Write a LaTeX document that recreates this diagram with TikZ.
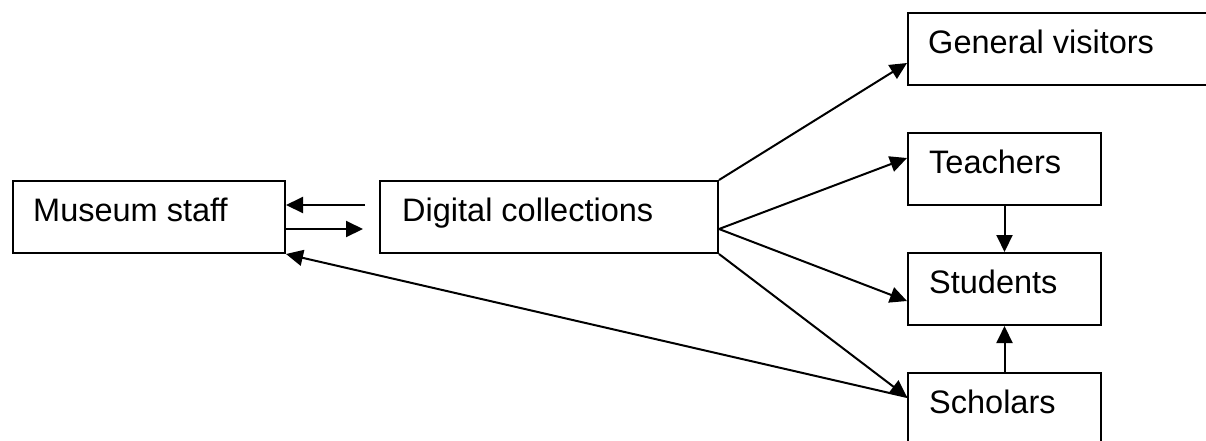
\documentclass[tikz,border=0pt]{standalone}
\usepackage{fontspec}
\setmainfont{Liberation Sans}
\usetikzlibrary{arrows.meta,calc}
\begin{document}
\begin{tikzpicture}[x=1pt,y=-1pt,
  box/.style={draw, line width=2pt, rectangle, inner sep=0pt, anchor=north west},
  lbl/.style={inner sep=0pt, anchor=base west, font=\fontsize{32.5}{38}\selectfont},
  arr/.style={line width=2pt, -{Triangle[length=17pt,width=16pt]}}]
\clip (0,0) rectangle (1206,440);
\fill[white] (0,0) rectangle (1206,440);
% boxes
\node[box, minimum width=272pt, minimum height=72pt] (staff) at (12,180) {};
\node[box, minimum width=338pt, minimum height=72pt] (dig) at (379,180) {};
\node[box, minimum width=310pt, minimum height=72pt] (gen) at (907,12) {};
\node[box, minimum width=193pt, minimum height=72pt] (tea) at (907,132) {};
\node[box, minimum width=193pt, minimum height=72pt] (stu) at (907,252) {};
\node[box, minimum width=193pt, minimum height=72pt] (sch) at (907,372) {};
% labels
\node[lbl] (staffl) at ($(staff.north west)+(21,41)$) {Museum staff};
\node[lbl] (digl) at ($(dig.north west)+(23,41)$) {Digital collections};
\node[lbl] (genl) at ($(gen.north west)+(21,41)$) {General visitors};
\node[lbl] (teal) at ($(tea.north west)+(22,41)$) {Teachers};
\node[lbl] (stul) at ($(stu.north west)+(22,41)$) {Students};
\node[lbl] (schl) at ($(sch.north west)+(22,41)$) {Scholars};
% connector points
\coordinate (d1) at ($(dig.west)+(-14,-12)$);
\coordinate (d2) at ($(dig.west)+(-16,12)$);
\coordinate (dfan) at ($(dig.east)+(0,12)$);
\coordinate (gin) at ($(gen.west)+(0,14)$);
\coordinate (tin) at ($(tea.west)+(0,-11)$);
\coordinate (sin) at ($(stu.west)+(0,12)$);
\coordinate (cin) at ($(sch.west)+(0,-12)$);
% connectors
\draw[arr] (d1) -- ($(staff.east)+(0,-12)$);
\draw[arr] ($(staff.east)+(0,12)$) -- (d2);
\draw[arr] (dig.north east) -- (gin);
\draw[arr] (dfan) -- (tin);
\draw[arr] (dfan) -- (sin);
\draw[arr] (dig.south east) -- (cin);
\draw[arr] (cin) -- (staff.south east);
\draw[arr] (tea.south) -- (stu.north);
\draw[arr] (sch.north) -- (stu.south);
\end{tikzpicture}
\end{document}
